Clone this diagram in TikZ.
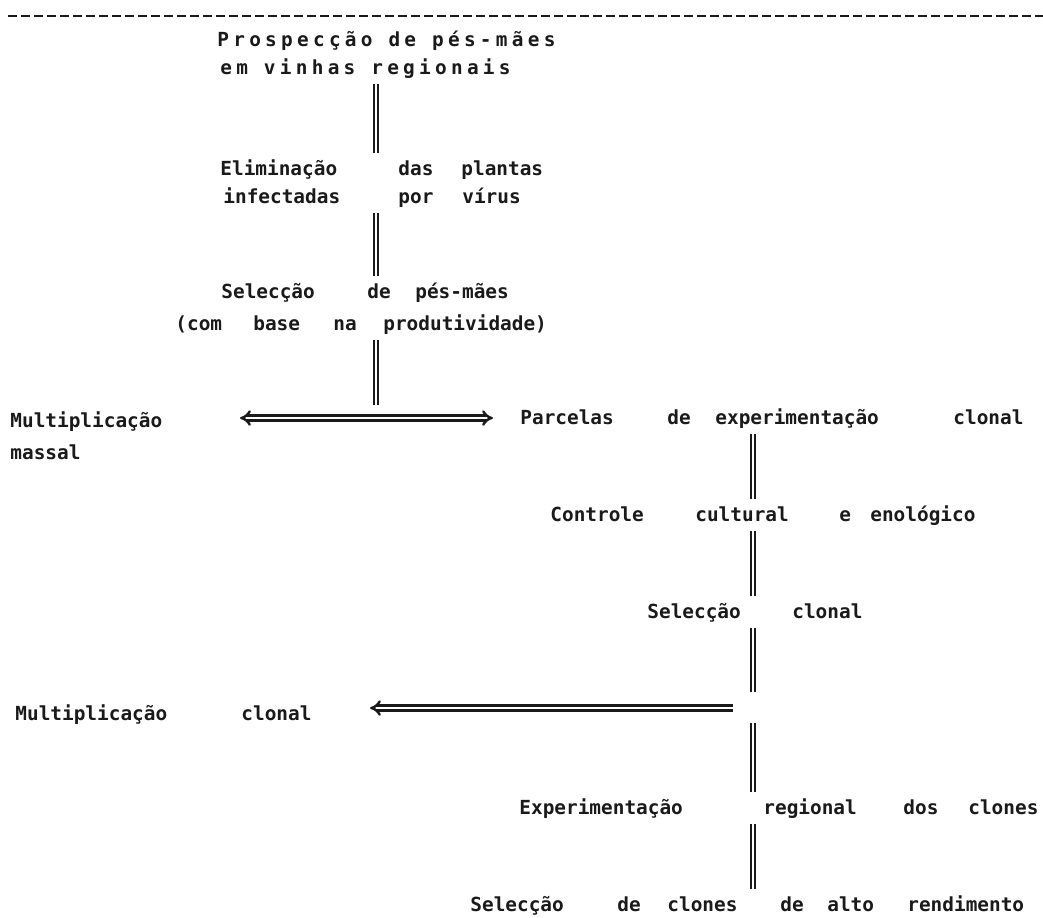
\documentclass[tikz,border=0pt]{standalone}
\usepackage{fontspec}
\newfontfamily\dotfont{DejaVu Sans Mono}
\newfontfamily\dotspaced[LetterSpace=22]{DejaVu Sans Mono}
\usepackage{xcolor}
\definecolor{fcink}{HTML}{1A1A1A}
\usetikzlibrary{arrows.meta}
\newlength\pxu
\setlength\pxu{0.5pt}
\newcommand{\wcell}[2]{\makebox[#1\pxu][l]{#2}}
\tikzset{
  fctxt/.style   ={anchor=base west, inner xsep=0pt, inner ysep=5pt,
                   text height=6pt, text depth=0pt, text=fcink,
                   font=\dotfont\bfseries\fontsize{9.7}{12}\selectfont},
  fchead/.style  ={fctxt, font=\dotspaced\bfseries\fontsize{9.7}{12}\selectfont},
  fcline/.style  ={draw=fcink, double=white, line width=0.85pt, double distance=1pt},
  fcarrow/.style ={draw=fcink, double=white, line width=1.2pt, double distance=1.3pt},
  fcrule/.style  ={draw=fcink, line width=1.1pt, dash pattern=on 4.5pt off 2pt},
}

\begin{document}
\begin{tikzpicture}[x=0.5pt, y=-0.5pt]
  \useasboundingbox (0,0) rectangle (1043,917);
  \draw[fcrule] (8,16) -- (1043,16);
  % columns of the vertical links
  \coordinate (ax) at (376,0);
  \coordinate (bx) at (753,0);
  % left branch
  \node[fchead] (prosp1) at (217,46) {Prospecção de pés-mães};
  \node[fchead] (prosp2) at (220,74) {em vinhas regionais};
  \node[fctxt] (elim1) at (220,175) {\wcell{178}{Eliminação}\wcell{63}{das}plantas};
  \node[fctxt] (elim2) at (223,203) {\wcell{175}{infectadas}\wcell{64}{por}vírus};
  \node[fctxt] (sel1) at (221,298) {\wcell{146}{Selecção}\wcell{48}{de}pés-mães};
  \node[fctxt] (sel2) at (175,330)
    {\wcell{78}{(com}\wcell{80}{base}\wcell{50}{na}produtividade)};
  \node[fctxt] (mmass1) at (10,427) {Multiplicação};
  \node[fctxt] (mmass2) at (10,459) {massal};
  % right branch
  \node[fctxt] (parc) at (520,424)
    {\wcell{147}{Parcelas}\wcell{48}{de}\wcell{238}{experimentação}clonal};
  \node[fctxt] (ctrl) at (550,521)
    {\wcell{145}{Controle}\wcell{144}{cultural}\wcell{31}{e}enológico};
  \node[fctxt] (selc) at (647,618) {\wcell{145}{Selecção}clonal};
  \node[fctxt] (mclon) at (15,720) {\wcell{226}{Multiplicação}clonal};
  \node[fctxt] (expreg) at (519,814)
    {\wcell{244}{Experimentação}\wcell{140}{regional}\wcell{65}{dos}clones};
  \node[fctxt] (selalto) at (470,911)
    {\wcell{147}{Selecção}\wcell{50}{de}\wcell{113}{clones}\wcell{47}{de}\wcell{80}{alto}rendimento};
  % branching points
  \coordinate (fork1) at (376,418);
  \coordinate (fork2) at (753,708);
  \coordinate (m1w) at (240,418);
  \coordinate (m1e) at (493,418);
  \coordinate (m2e) at (733,708);
  \coordinate (m2w) at (370,708);
  \foreach \a/\b/\c in {prosp2/elim1/ax, elim2/sel1/ax, parc/ctrl/bx,
                        ctrl/selc/bx, expreg/selalto/bx}{
    \draw[fcline] (\a.south -| \c) -- (\b.north -| \c);
  }
  \draw[fcline, shorten >=6.5pt] (sel2.south -| ax) -- (fork1);
  \draw[fcline, shorten >=8pt] (selc.south -| bx) -- (fork2);
  \draw[fcline, shorten <=7.5pt] (fork2) -- (expreg.north -| bx);
  \draw[fcarrow, {Implies[scale=1.8]}-{Implies[scale=1.8]}] (m1w) -- (m1e);
  \draw[fcarrow, -{Implies[scale=1.8]}] (m2e) -- (m2w);
\end{tikzpicture}
\end{document}
